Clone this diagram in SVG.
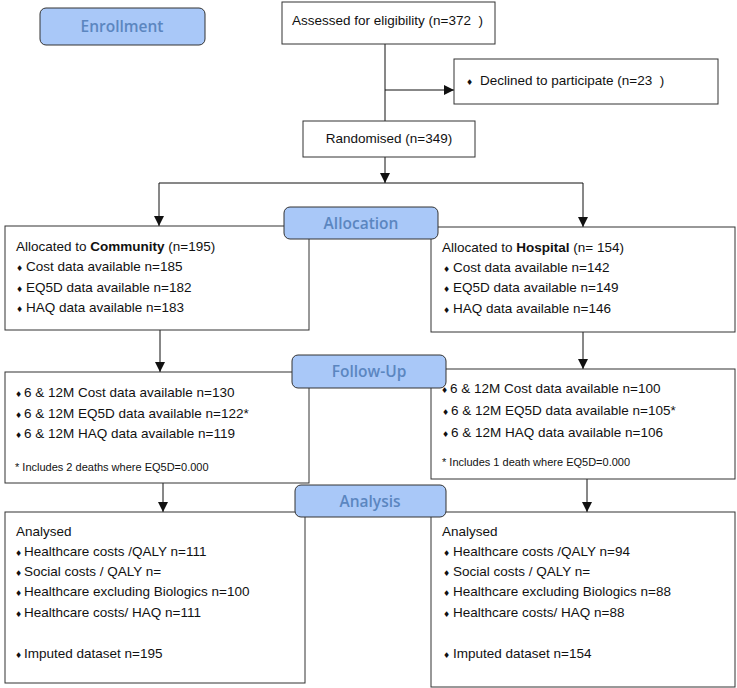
<svg xmlns="http://www.w3.org/2000/svg" width="737" height="688" viewBox="0 0 737 688">
<style>
.box{fill:#fff;stroke:#333;stroke-width:1}
.lab{fill:#a9c8f8;stroke:#333;stroke-width:1}
.lt{font-family:"Open Sans","Liberation Sans",sans-serif;font-weight:600;font-size:15.5px;fill:#5b86c0;text-anchor:middle}
.t{font-family:"Liberation Sans",Arial,sans-serif;font-size:13.5px;fill:#111}
.s{font-family:"Liberation Sans",Arial,sans-serif;font-size:11px;fill:#111}
.b{font-family:"DejaVu Sans",sans-serif;font-size:8px}
.c{fill:none;stroke:#111;stroke-width:1}
</style>
<defs>
<marker id="ah" viewBox="0 0 10 10" refX="10" refY="5" markerWidth="10" markerHeight="10" markerUnits="userSpaceOnUse" orient="auto">
<path d="M0,0 L10,5 L0,10 Z" fill="#111"/>
</marker>
</defs>
<g id="connectors">
<line class="c" x1="385" y1="44" x2="385" y2="121"/>
<line class="c" x1="385" y1="90" x2="454" y2="90" marker-end="url(#ah)"/>
<line class="c" x1="385" y1="157" x2="385" y2="183" marker-end="url(#ah)"/>
<line class="c" x1="159" y1="183" x2="583" y2="183"/>
<line class="c" x1="159" y1="183" x2="159" y2="226" marker-end="url(#ah)"/>
<line class="c" x1="583" y1="183" x2="583" y2="227" marker-end="url(#ah)"/>
<line class="c" x1="160" y1="330" x2="160" y2="372" marker-end="url(#ah)"/>
<line class="c" x1="583" y1="332" x2="583" y2="369" marker-end="url(#ah)"/>
<line class="c" x1="163" y1="483" x2="163" y2="512" marker-end="url(#ah)"/>
<line class="c" x1="587" y1="479" x2="587" y2="512" marker-end="url(#ah)"/>
</g>
<g id="enrollment">
<rect class="lab" x="40" y="8" width="165" height="37" rx="6"/>
<text class="lt" x="122" y="32">Enrollment</text>
</g>
<g id="assessed">
<rect class="box" x="282" y="2" width="213" height="42"/>
<text class="t" x="292" y="25" xml:space="preserve">Assessed for eligibility (n=372  )</text>
</g>
<g id="declined">
<rect class="box" x="454" y="59" width="264" height="45"/>
<text class="t" x="466" y="85" xml:space="preserve"><tspan class="b">♦</tspan><tspan x="480">Declined to participate (n=23  )</tspan></text>
</g>
<g id="randomised">
<rect class="box" x="303" y="121" width="172" height="36"/>
<text class="t" x="389" y="143" text-anchor="middle">Randomised (n=349)</text>
</g>
<g id="community">
<rect class="box" x="5" y="226" width="304" height="104"/>
<text class="t" x="16" y="251">Allocated to <tspan font-weight="700">Community</tspan> (n=195)</text>
<text class="t" x="16" y="271"><tspan class="b">♦</tspan><tspan x="26">Cost data available n=185</tspan></text>
<text class="t" x="16" y="291.5"><tspan class="b">♦</tspan><tspan x="26">EQ5D data available n=182</tspan></text>
<text class="t" x="16" y="312"><tspan class="b">♦</tspan><tspan x="26">HAQ data available n=183</tspan></text>
</g>
<g id="hospital">
<rect class="box" x="431" y="227" width="304" height="105"/>
<text class="t" x="442" y="252">Allocated to <tspan font-weight="700">Hospital</tspan> (n= 154)</text>
<text class="t" x="443" y="272"><tspan class="b">♦</tspan><tspan x="453">Cost data available n=142</tspan></text>
<text class="t" x="443" y="292"><tspan class="b">♦</tspan><tspan x="453">EQ5D data available n=149</tspan></text>
<text class="t" x="443" y="313"><tspan class="b">♦</tspan><tspan x="453">HAQ data available n=146</tspan></text>
</g>
<g id="allocation">
<rect class="lab" x="284" y="207" width="154" height="32" rx="6"/>
<text class="lt" x="361" y="229">Allocation</text>
</g>
<g id="followup-community">
<rect class="box" x="5" y="372" width="304" height="111"/>
<text class="t" x="15" y="397"><tspan class="b">♦</tspan><tspan x="24">6 &amp; 12M Cost data available n=130</tspan></text>
<text class="t" x="15" y="418"><tspan class="b">♦</tspan><tspan x="24">6 &amp; 12M EQ5D data available n=122*</tspan></text>
<text class="t" x="15" y="438"><tspan class="b">♦</tspan><tspan x="24">6 &amp; 12M HAQ data available n=119</tspan></text>
<text class="s" x="15" y="471">* Includes 2 deaths where EQ5D=0.000</text>
</g>
<g id="followup-hospital">
<rect class="box" x="431" y="369" width="304" height="110"/>
<text class="t" x="441" y="393"><tspan class="b">♦</tspan><tspan x="450">6 &amp; 12M Cost data available n=100</tspan></text>
<text class="t" x="442" y="415"><tspan class="b">♦</tspan><tspan x="451">6 &amp; 12M EQ5D data available n=105*</tspan></text>
<text class="t" x="442" y="437"><tspan class="b">♦</tspan><tspan x="451">6 &amp; 12M HAQ data available n=106</tspan></text>
<text class="s" x="442" y="466">* Includes 1 death where EQ5D=0.000</text>
</g>
<g id="followup">
<rect class="lab" x="292" y="355" width="154" height="33" rx="6"/>
<text class="lt" x="369" y="377">Follow-Up</text>
</g>
<g id="analysis-community">
<rect class="box" x="5" y="512" width="300" height="171"/>
<text class="t" x="16" y="536">Analysed</text>
<text class="t" x="15" y="556"><tspan class="b">♦</tspan><tspan x="24">Healthcare costs /QALY n=111</tspan></text>
<text class="t" x="15" y="576"><tspan class="b">♦</tspan><tspan x="24">Social costs / QALY n=</tspan></text>
<text class="t" x="15" y="596"><tspan class="b">♦</tspan><tspan x="24">Healthcare excluding Biologics n=100</tspan></text>
<text class="t" x="15" y="617"><tspan class="b">♦</tspan><tspan x="24">Healthcare costs/ HAQ n=111</tspan></text>
<text class="t" x="15" y="658"><tspan class="b">♦</tspan><tspan x="24">Imputed dataset n=195</tspan></text>
</g>
<g id="analysis-hospital">
<rect class="box" x="431" y="512" width="304" height="175"/>
<text class="t" x="442" y="536">Analysed</text>
<text class="t" x="443" y="556"><tspan class="b">♦</tspan><tspan x="453">Healthcare costs /QALY n=94</tspan></text>
<text class="t" x="443" y="576"><tspan class="b">♦</tspan><tspan x="453">Social costs / QALY n=</tspan></text>
<text class="t" x="443" y="596"><tspan class="b">♦</tspan><tspan x="453">Healthcare excluding Biologics n=88</tspan></text>
<text class="t" x="443" y="617"><tspan class="b">♦</tspan><tspan x="453">Healthcare costs/ HAQ n=88</tspan></text>
<text class="t" x="443" y="658"><tspan class="b">♦</tspan><tspan x="453">Imputed dataset n=154</tspan></text>
</g>
<g id="analysis">
<rect class="lab" x="295" y="485" width="151" height="32" rx="6"/>
<text class="lt" x="370" y="507">Analysis</text>
</g>
</svg>
